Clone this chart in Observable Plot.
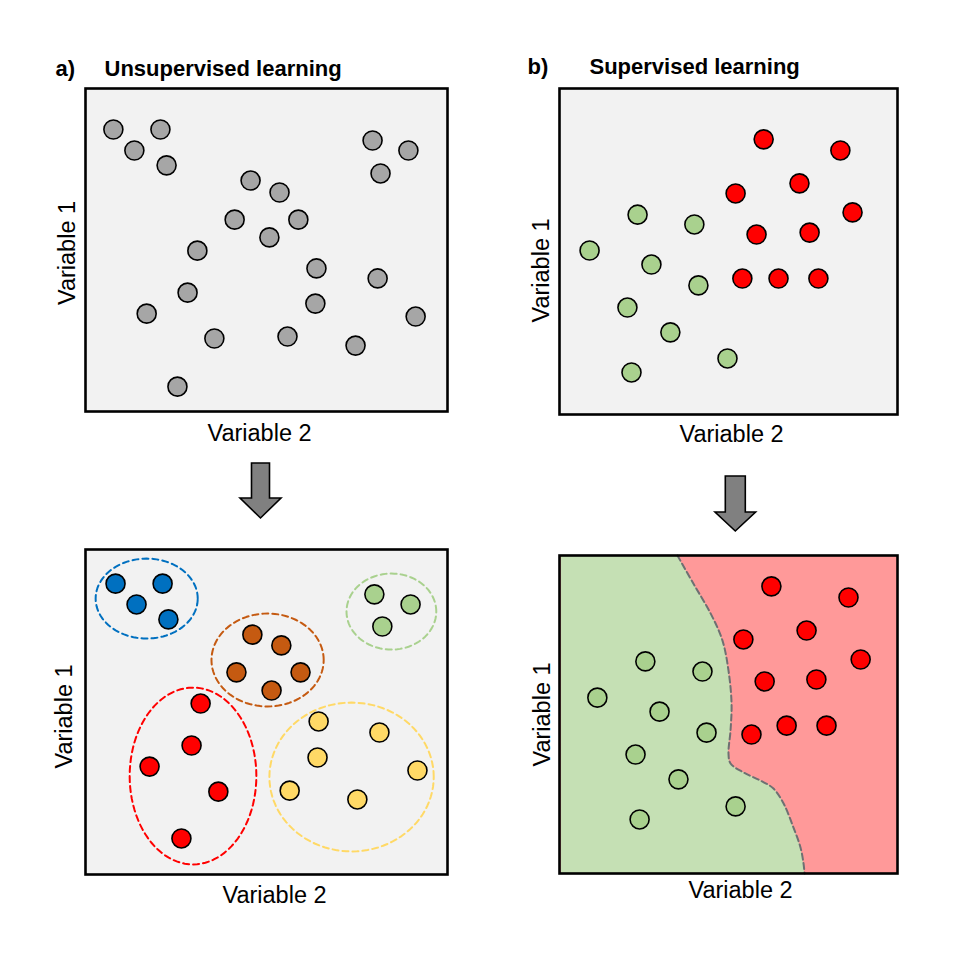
<!DOCTYPE html>
<html><head><meta charset="utf-8">
<script src="https://cdn.jsdelivr.net/npm/d3@7"></script>
<script src="https://cdn.jsdelivr.net/npm/@observablehq/plot@0.6"></script>
<style>
html,body{margin:0;padding:0;background:#fff;}
#wrap{position:relative;width:965px;height:965px;overflow:hidden;background:#fff;}
#wrap > svg{position:absolute;left:0;top:0;}
</style></head><body><div id="wrap"></div>
<script>
// ---------- DATA (units: 0-100 along each panel's Variable 2 / Variable 1) ----------
// Panel a: unlabelled points
const unsupX = [7.7,20.7,13.5,22.4,45.6,53.6,41.2,58.8,50.8,30.9,63.8,80.7,28.2,63.5,16.9,35.6,55.8,74.6,91.2,25.4,79.3,89.2,81.5];
const unsupY = [87.3,87.3,80.8,76.2,71.5,67.8,59.4,59.4,53.9,49.8,44.3,41.2,36.8,33.4,30.3,22.6,23.2,20.4,29.4,7.7,83.9,80.8,73.7];

// Panel b / d: labelled classes
const classNames = ["A","B"];
const classColors = ["#a9d18e","#ff0000"];
const supRedX = [60.4,83.1,71.0,52.1,86.7,58.3,74.0,54.1,64.8,76.6];
const supRedY = [84.4,81.0,70.9,67.8,62.0,55.2,55.8,41.7,41.7,41.7];
const supGreenX = [23.1,39.9,8.9,27.2,41.1,20.1,32.8,49.7,21.3];
const supGreenY = [61.3,58.3,50.3,46.0,39.6,32.8,25.2,17.2,12.9];

// Panel c: clusters
const clusterNames = ["blue","brown","green","red","yellow"];
const clusterColors = ["#0070c0","#c55a11","#a9d18e","#ff0000","#ffd966"];
const clusterX = [[8.3,21.3,14.1,22.9],[46.1,54.1,41.7,59.4,51.4],[79.8,89.8,82.0],[31.8,29.3,17.7,36.7,26.5],[64.4,81.2,64.1,91.7,56.4,75.1]];
const clusterY = [[89.5,89.5,83.1,78.5],[73.8,70.5,62.2,62.2,56.6],[86.2,83.1,76.3],[52.6,39.7,33.2,25.5,11.1],[47.1,43.7,36.0,32.0,25.8,23.1]];
const ellipseCX = [16.9,50.3,84.5,29.7,73.5];
const ellipseCY = [84.9,66.0,80.9,30.3,30.0];
const ellipseRX = [14.1,15.5,12.4,17.5,22.7];
const ellipseRY = [12.3,14.3,11.7,27.2,22.9];

// Panel d: classifier after training
const classRedX = [62.7,85.5,73.1,54.4,89.1,60.7,76.0,67.2,79.0,56.8];
const classRedY = [90.3,86.8,76.4,73.6,67.3,60.4,61.0,46.5,46.5,43.7];
const classGreenX = [25.4,42.3,11.2,29.6,43.5,22.5,35.2,52.1,23.7];
const classGreenY = [66.7,63.5,55.3,50.9,44.3,37.4,29.6,21.1,17.0];
const boundaryX = [34.9,39.6,44.7,48.2,50.0,50.9,50.6,50.0,50.6,54.4,59.5,63.3,66.3,69.2,71.3,72.2,72.5];
const boundaryY = [100,91.2,81.8,73.3,63.8,53.5,45.0,37.7,34.6,31.8,29.2,26.7,22.0,14.5,8.2,3.1,0];

// Text
const titles = ["a)","Unsupervised learning","b)","Supervised learning"];
const xLabel = "Variable 2";
const yLabel = "Variable 1";

// ---------- helpers ----------
const FONT = "'Liberation Sans', Arial, Helvetica, sans-serif";
const pts = (xs, ys, extra = {}) => xs.map((x, i) => ({x, y: ys[i], ...extra}));
const wrap = document.getElementById("wrap");

function panel(box, marks) {
  const [L, T, R, B] = box;
  return Plot.plot({
    width: 965, height: 965,
    marginLeft: L, marginTop: T, marginRight: 965 - R, marginBottom: 965 - B,
    x: {domain: [0, 100], axis: null},
    y: {domain: [0, 100], axis: null},
    style: {background: "transparent", fontFamily: FONT, overflow: "visible"},
    marks
  });
}
const dotOpts = {x: "x", y: "y", r: 9.5, stroke: "black", strokeWidth: 1.6};
function labels(dxX, dyX, dxY, dyY) {
  return [
    Plot.text([xLabel], {text: d => d, frameAnchor: "bottom", lineAnchor: "bottom", textAnchor: "middle", dx: dxX, dy: dyX, fontSize: 23.5, fill: "black"}),
    Plot.text([yLabel], {text: d => d, frameAnchor: "left", lineAnchor: "bottom", textAnchor: "middle", rotate: -90, dx: dxY, dy: dyY, fontSize: 23.5, fill: "black"})
  ];
}
function title(t, dx, dy) {
  return Plot.text([t], {text: d => d, frameAnchor: "top-left", textAnchor: "start", lineAnchor: "bottom", dx, dy, fontSize: 22, fontWeight: "bold", fill: "black"});
}
const frameBorder = Plot.frame({stroke: "black", strokeWidth: 2.6, fill: "none"});

// ---------- Panel a ----------
const boxA = [85, 88, 447, 411];
wrap.appendChild(panel(boxA, [
  Plot.frame({fill: "#f2f2f2", stroke: "none"}),
  Plot.dot(pts(unsupX, unsupY), {...dotOpts, fill: "#a6a6a6"}),
  frameBorder,
  title(titles[0], -30, -13),
  title(titles[1], 19, -13),
  ...labels(-7, 29, -11, 3)
]));

// ---------- Panel b ----------
const boxB = [559, 88, 897, 414];
wrap.appendChild(panel(boxB, [
  Plot.frame({fill: "#f2f2f2", stroke: "none"}),
  Plot.dot([...pts(supRedX, supRedY, {c: classNames[1]}), ...pts(supGreenX, supGreenY, {c: classNames[0]})],
    {...dotOpts, fill: d => classColors[classNames.indexOf(d.c)]}),
  frameBorder,
  title(titles[2], -32, -15),
  title(titles[3], 30, -15),
  ...labels(3, 27, -11, 19)
]));

// ---------- Panel c ----------
const boxC = [85, 549, 447, 874];
const ellipsePts = clusterNames.flatMap((name, k) =>
  d3.range(0, 97).map(i => {
    const t = (i / 96) * 2 * Math.PI;
    return {c: name, x: ellipseCX[k] + ellipseRX[k] * Math.cos(t), y: ellipseCY[k] + ellipseRY[k] * Math.sin(t)};
  }));
const clusterPts = clusterNames.flatMap((name, k) => pts(clusterX[k], clusterY[k], {c: name}));
wrap.appendChild(panel(boxC, [
  Plot.frame({fill: "#f2f2f2", stroke: "none"}),
  Plot.line(ellipsePts, {x: "x", y: "y", z: "c", stroke: d => clusterColors[clusterNames.indexOf(d.c)], strokeWidth: 2, strokeDasharray: "6,4"}),
  Plot.dot(clusterPts, {...dotOpts, fill: d => clusterColors[clusterNames.indexOf(d.c)]}),
  frameBorder,
  ...labels(8, 28, -14, 4.5)
]));

// ---------- Panel d ----------
const boxD = [559, 555, 897, 873];
const boundary = pts(boundaryX, boundaryY);
wrap.appendChild(panel(boxD, [
  Plot.frame({fill: "#ff9999", stroke: "none"}),
  Plot.areaX(boundary, {y: "y", x1: 0.6, x2: "x", fill: "#c5e0b4", curve: "catmull-rom"}),
  Plot.line(boundary, {x: "x", y: "y", stroke: "#6e7072", strokeWidth: 2, strokeDasharray: "6,3.5", curve: "catmull-rom"}),
  Plot.dot([...pts(classRedX, classRedY, {c: classNames[1]}), ...pts(classGreenX, classGreenY, {c: classNames[0]})],
    {...dotOpts, fill: d => classColors[classNames.indexOf(d.c)]}),
  frameBorder,
  ...labels(12, 24, -10, 0)
]));

// ---------- Arrows ----------
const svg = d3.select(wrap).append("svg").attr("width", 965).attr("height", 965);
function arrow(cx, top, sh, sb, hh, tip) {
  const p = [[cx - sh, top], [cx + sh, top], [cx + sh, sb], [cx + hh, sb], [cx, tip], [cx - hh, sb], [cx - sh, sb]];
  svg.append("path").attr("d", "M" + p.map(q => q.join(",")).join("L") + "Z")
    .attr("fill", "#808080").attr("stroke", "black").attr("stroke-width", 1.6).attr("stroke-linejoin", "miter");
}
arrow(260.5, 463, 9, 498, 20.5, 518);
arrow(735.3, 476, 10, 512, 20.3, 531);
</script></body></html>
